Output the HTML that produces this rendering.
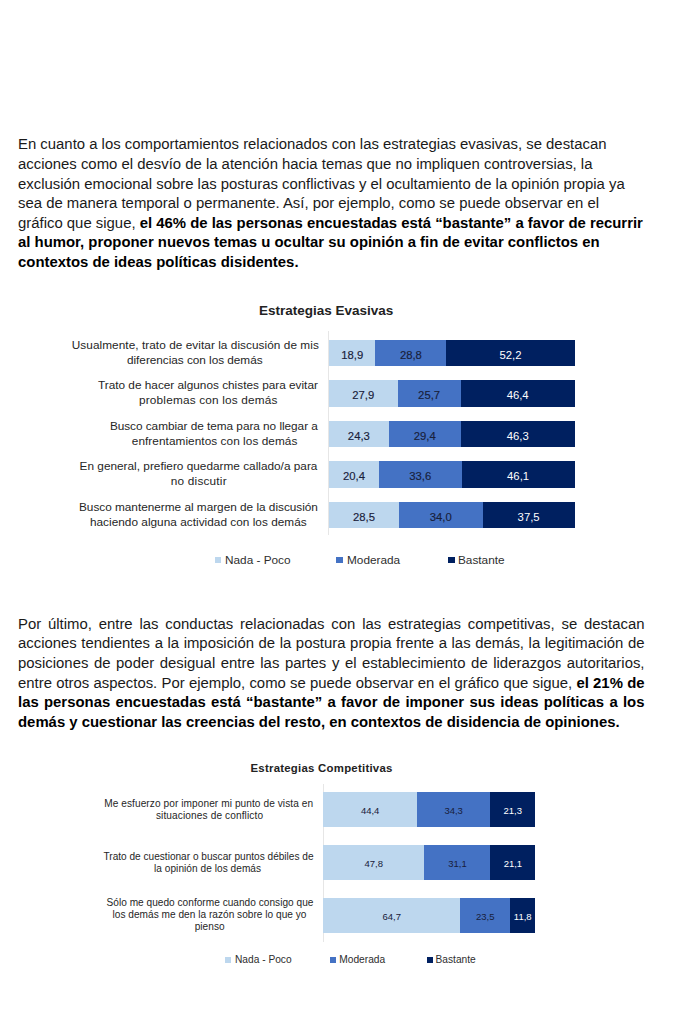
<!DOCTYPE html>
<html><head><meta charset="utf-8">
<style>
html,body{margin:0;padding:0;background:#fff;}
body{width:680px;height:1024px;position:relative;overflow:hidden;font-family:"Liberation Sans",sans-serif;}
.p{position:absolute;left:18px;font-size:14.9px;line-height:19.6px;color:#1a1a1a;}
.p div{white-space:nowrap;}
.j div{text-align:justify;text-align-last:justify;width:626.5px;}
.j div.last{text-align:left;text-align-last:left;}
b{font-weight:bold;color:#000;}
.ct{position:absolute;font-weight:bold;color:#222;white-space:nowrap;line-height:normal;}
.lab{position:absolute;text-align:center;color:#262626;white-space:nowrap;}
.bar{position:absolute;display:flex;}
.bar>div{height:100%;display:flex;align-items:center;justify-content:center;color:#18203a;-webkit-text-stroke:0.15px currentColor;}
.bar span{position:relative;display:block;line-height:1;}
.c1{background:#bdd7ee;}
.c2{background:#4472c4;}
.c3{background:#002060;}
.bar>div.c3{color:#fff;-webkit-text-stroke:0;}
.axis{position:absolute;width:1px;background:#e6e6e6;}
.lg{position:absolute;color:#2e2e2e;white-space:nowrap;line-height:normal;}
.sq{position:absolute;}
.l1{font-size:11.8px;line-height:15px;}
.b1 span{font-size:11.3px;top:2.5px;}
.l2{font-size:10.1px;line-height:12px;}
.b2 span{font-size:9.5px;top:1px;-webkit-text-stroke:0;}
.g1{font-size:11.8px;}
.g2{font-size:10.2px;}
</style></head><body>

<div class="p" style="top:135.4px;">
<div>En cuanto a los comportamientos relacionados con las estrategias evasivas, se destacan</div>
<div>acciones como el desvío de la atención hacia temas que no impliquen controversias, la</div>
<div>exclusión emocional sobre las posturas conflictivas y el ocultamiento de la opinión propia ya</div>
<div>sea de manera temporal o permanente. Así, por ejemplo, como se puede observar en el</div>
<div>gráfico que sigue, <b>el 46% de las personas encuestadas está “bastante” a favor de recurrir</b></div>
<div><b>al humor, proponer nuevos temas u ocultar su opinión a fin de evitar conflictos en</b></div>
<div><b>contextos de ideas políticas disidentes.</b></div>
</div>

<div class="ct" style="left:259px;top:303.0px;font-size:13.5px;">Estrategias Evasivas</div>
<div class="axis" style="left:328px;top:331px;height:204px;"></div>
<div class="lab l1" style="left:71.80px;top:337.80px;letter-spacing:0.053px;">Usualmente, trato de evitar la discusión de mis</div>
<div class="lab l1" style="left:127.00px;top:352.80px;letter-spacing:-0.034px;">diferencias con los demás</div>
<div class="bar b1" style="left:329px;top:339.80px;width:245.7px;height:26.3px;"><div class="c1" style="width:18.919%"><span>18,9</span></div><div class="c2" style="width:28.829%"><span>28,8</span></div><div class="c3" style="width:52.252%"><span>52,2</span></div></div>
<div class="lab l1" style="left:98.00px;top:378.30px;letter-spacing:0.0px;">Trato de hacer algunos chistes para evitar</div>
<div class="lab l1" style="left:139.00px;top:393.30px;letter-spacing:0.182px;">problemas con los demás</div>
<div class="bar b1" style="left:329px;top:380.30px;width:245.7px;height:26.3px;"><div class="c1" style="width:27.900%"><span>27,9</span></div><div class="c2" style="width:25.700%"><span>25,7</span></div><div class="c3" style="width:46.400%"><span>46,4</span></div></div>
<div class="lab l1" style="left:109.90px;top:418.80px;letter-spacing:-0.033px;">Busco cambiar de tema para no llegar a</div>
<div class="lab l1" style="left:131.80px;top:433.80px;letter-spacing:0.057px;">enfrentamientos con los demás</div>
<div class="bar b1" style="left:329px;top:420.80px;width:245.7px;height:26.3px;"><div class="c1" style="width:24.300%"><span>24,3</span></div><div class="c2" style="width:29.400%"><span>29,4</span></div><div class="c3" style="width:46.300%"><span>46,3</span></div></div>
<div class="lab l1" style="left:79.60px;top:459.30px;letter-spacing:0.009px;">En general, prefiero quedarme callado/a para</div>
<div class="lab l1" style="left:170.80px;top:474.30px;letter-spacing:0.2px;">no discutir</div>
<div class="bar b1" style="left:329px;top:461.30px;width:245.7px;height:26.3px;"><div class="c1" style="width:20.380%"><span>20,4</span></div><div class="c2" style="width:33.566%"><span>33,6</span></div><div class="c3" style="width:46.054%"><span>46,1</span></div></div>
<div class="lab l1" style="left:79.00px;top:499.80px;letter-spacing:-0.01px;">Busco mantenerme al margen de la discusión</div>
<div class="lab l1" style="left:89.90px;top:514.80px;letter-spacing:0.027px;">haciendo alguna actividad con los demás</div>
<div class="bar b1" style="left:329px;top:501.80px;width:245.7px;height:26.3px;"><div class="c1" style="width:28.500%"><span>28,5</span></div><div class="c2" style="width:34.000%"><span>34,0</span></div><div class="c3" style="width:37.500%"><span>37,5</span></div></div>
<div class="sq c1" style="left:214.5px;top:556.8px;width:6.6px;height:6.5px;"></div><div class="lg g1" style="left:225px;top:552.8px;">Nada - Poco</div>
<div class="sq c2" style="left:336.3px;top:556.8px;width:6.6px;height:6.5px;"></div><div class="lg g1" style="left:347px;top:552.8px;">Moderada</div>
<div class="sq c3" style="left:448.2px;top:556.8px;width:6.6px;height:6.5px;"></div><div class="lg g1" style="left:458px;top:552.8px;">Bastante</div>

<div class="p j" style="top:614.8px;">
<div>Por último, entre las conductas relacionadas con las estrategias competitivas, se destacan</div>
<div>acciones tendientes a la imposición de la postura propia frente a las demás, la legitimación de</div>
<div>posiciones de poder desigual entre las partes y el establecimiento de liderazgos autoritarios,</div>
<div>entre otros aspectos. Por ejemplo, como se puede observar en el gráfico que sigue, <b>el 21% de</b></div>
<div><b>las personas encuestadas está “bastante” a favor de imponer sus ideas políticas a los</b></div>
<div class="last"><b>demás y cuestionar las creencias del resto, en contextos de disidencia de opiniones.</b></div>
</div>

<div class="ct" style="left:250.5px;top:761.6px;font-size:11.4px;letter-spacing:0.25px;">Estrategias Competitivas</div>
<div class="axis" style="left:323px;top:784px;height:158px;"></div>
<div class="lab l2" style="left:104.20px;top:797.76px;letter-spacing:0.083px;">Me esfuerzo por imponer mi punto de vista en</div>
<div class="lab l2" style="left:155.90px;top:809.76px;letter-spacing:0.122px;">situaciones de conflicto</div>
<div class="bar b2" style="left:323.0px;top:792.30px;width:212.3px;height:35.0px;"><div class="c1" style="width:44.400%"><span>44,4</span></div><div class="c2" style="width:34.300%"><span>34,3</span></div><div class="c3" style="width:21.300%"><span>21,3</span></div></div>
<div class="lab l2" style="left:103.50px;top:851.36px;letter-spacing:0.0px;">Trato de cuestionar o buscar puntos débiles de</div>
<div class="lab l2" style="left:154.00px;top:863.36px;letter-spacing:0.045px;">la opinión de los demás</div>
<div class="bar b2" style="left:323.0px;top:845.05px;width:212.3px;height:35.0px;"><div class="c1" style="width:47.800%"><span>47,8</span></div><div class="c2" style="width:31.100%"><span>31,1</span></div><div class="c3" style="width:21.100%"><span>21,1</span></div></div>
<div class="lab l2" style="left:106.50px;top:896.86px;letter-spacing:0.024px;">Sólo me quedo conforme cuando consigo que</div>
<div class="lab l2" style="left:112.50px;top:908.86px;letter-spacing:0.024px;">los demás me den la razón sobre lo que yo</div>
<div class="lab l2" style="left:194.70px;top:920.86px;letter-spacing:0.04px;">pienso</div>
<div class="bar b2" style="left:323.0px;top:897.80px;width:212.3px;height:35.0px;"><div class="c1" style="width:64.700%"><span>64,7</span></div><div class="c2" style="width:23.500%"><span>23,5</span></div><div class="c3" style="width:11.800%"><span>11,8</span></div></div>
<div class="sq c1" style="left:225.2px;top:957.2px;width:6px;height:6px;"></div><div class="lg g2" style="left:235px;top:954.2px;">Nada - Poco</div>
<div class="sq c2" style="left:329.6px;top:957.2px;width:6px;height:6px;"></div><div class="lg g2" style="left:339.3px;top:954.2px;">Moderada</div>
<div class="sq c3" style="left:426.5px;top:957.2px;width:6px;height:6px;"></div><div class="lg g2" style="left:435.5px;top:954.2px;">Bastante</div>

</body></html>
